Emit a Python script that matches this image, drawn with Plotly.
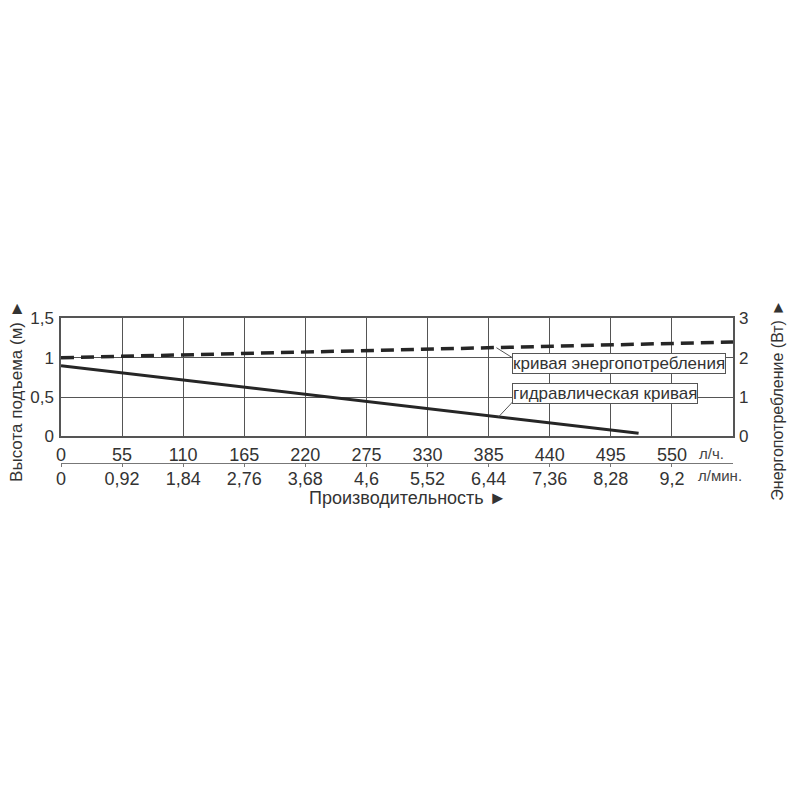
import plotly.graph_objects as go

# flow axis (l/h) and its twin in l/min
flow_ticks = [0, 55, 110, 165, 220, 275, 330, 385, 440, 495, 550]
flow_lmin_labels = ["0", "0,92", "1,84", "2,76", "3,68", "4,6", "5,52", "6,44", "7,36", "8,28", "9,2"]

head_ticks = [0, 0.5, 1, 1.5]
head_labels = ["0", "0,5", "1", "1,5"]
power_ticks = [0, 1, 2, 3]

# hydraulic curve, head in m
hyd_flow = [0, 55, 110, 165, 220, 275, 330, 385, 440, 495, 520]
hyd_head = [0.90, 0.81, 0.72, 0.63, 0.535, 0.445, 0.355, 0.265, 0.175, 0.085, 0.04]

# power consumption curve, W
pow_flow = [0, 55, 110, 165, 220, 275, 330, 385, 440, 495, 550, 605]
pow_watt = [2.0, 2.035, 2.07, 2.105, 2.14, 2.18, 2.215, 2.25, 2.29, 2.325, 2.36, 2.40]

FONT = "Liberation Sans, Arial, sans-serif"
TXT = "#333333"
GRID = "#555555"
LINE = "#262626"

# the page body adds 8px, so layout numbers are the reference pixels minus 8
L, R = 53, 725
def px(x):
    return (x - L) / (R - L)
def py(y):
    return 1 - y / 800

dom = [py(429.7), py(308.7)]

fig = go.Figure()
fig.add_trace(go.Scatter(x=hyd_flow, y=hyd_head, mode="lines",
                         line=dict(color=LINE, width=3), showlegend=False))
fig.add_trace(go.Scatter(x=pow_flow, y=pow_watt, mode="lines", yaxis="y2",
                         line=dict(color=LINE, width=3.5, dash="13px,7px"),
                         showlegend=False))
# invisible trace so the second flow axis gets drawn
fig.add_trace(go.Scatter(x=[0, 605], y=[0, 0], xaxis="x2", mode="lines",
                         line=dict(width=0, color="rgba(0,0,0,0)"),
                         showlegend=False, hoverinfo="skip"))

fig.update_layout(
    width=800, height=800,
    margin=dict(l=L, r=800 - R, t=0, b=0),
    paper_bgcolor="white", plot_bgcolor="white",
    font=dict(family=FONT, color=TXT, size=17),
    xaxis=dict(range=[0, 605], tickvals=flow_ticks, ticktext=[str(v) for v in flow_ticks],
               showgrid=True, gridcolor=GRID, gridwidth=1, zeroline=False,
               showline=True, linecolor=GRID, linewidth=1.5, mirror=True,
               ticks="", ticklabelstandoff=1, tickfont=dict(size=18, color=TXT)),
    xaxis2=dict(range=[0, 605], tickvals=flow_ticks, ticktext=flow_lmin_labels,
                overlaying="x", anchor="free", position=py(457),
                showgrid=False, zeroline=False,
                showline=True, linecolor="#777777", linewidth=1,
                ticks="outside", ticklen=3, tickcolor="#777777",
                ticklabelstandoff=-4, tickfont=dict(size=18, color=TXT)),
    yaxis=dict(domain=dom, range=[0, 1.5], tickvals=head_ticks, ticktext=head_labels,
               showgrid=True, gridcolor=GRID, gridwidth=1, zeroline=False,
               showline=True, linecolor=GRID, linewidth=1.5, mirror=True,
               ticks="", ticklabelstandoff=2, tickfont=dict(size=17, color=TXT)),
    yaxis2=dict(range=[0, 3], tickvals=power_ticks, overlaying="y", side="right",
                showgrid=False, zeroline=False, ticks="", ticklabelstandoff=5,
                tickfont=dict(size=17, color=TXT)),
)

# leader lines from the curves to the labels
fig.add_shape(type="line", xref="x", yref="y2", x0=392, y0=2.255, x1=407, y1=1.99,
              line=dict(color=GRID, width=1))
fig.add_shape(type="line", xref="x", yref="y", x0=394, y0=0.25, x1=407, y1=0.445,
              line=dict(color=GRID, width=1))

fig.add_annotation(x=406, y=0.932, xref="x", yref="y", xanchor="left", yanchor="middle",
                   text="кривая энергопотребления", showarrow=False,
                   font=dict(size=17, color=TXT), bgcolor="white",
                   bordercolor=GRID, borderwidth=1, borderpad=0)
fig.add_annotation(x=406, y=0.542, xref="x", yref="y", xanchor="left", yanchor="middle",
                   text="гидравлическая кривая", showarrow=False,
                   font=dict(size=17, color=TXT), bgcolor="white",
                   bordercolor=GRID, borderwidth=1, borderpad=0)

# unit labels and axis titles
fig.add_annotation(x=px(703), y=py(447), xref="paper", yref="paper",
                   text="л/ч.", showarrow=False, font=dict(size=15, color="#444444"),
                   xanchor="center", yanchor="middle")
fig.add_annotation(x=px(712), y=py(470), xref="paper", yref="paper",
                   text="л/мин.", showarrow=False, font=dict(size=15, color="#444444"),
                   xanchor="center", yanchor="middle")
fig.add_annotation(x=px(400), y=py(493), xref="paper", yref="paper",
                   text="Производительность ►", showarrow=False,
                   font=dict(size=18, color=TXT), xanchor="center", yanchor="middle")
fig.add_annotation(x=px(9), y=py(384), xref="paper", yref="paper",
                   text="Высота подъема (м) ►", showarrow=False, textangle=-90,
                   font=dict(size=17, color=TXT), xanchor="center", yanchor="middle")
fig.add_annotation(x=px(770), y=py(393), xref="paper", yref="paper",
                   text="Энергопотребление (Вт) ►", showarrow=False, textangle=-90,
                   font=dict(size=16, color=TXT), xanchor="center", yanchor="middle")

fig.write_html("out.html")
